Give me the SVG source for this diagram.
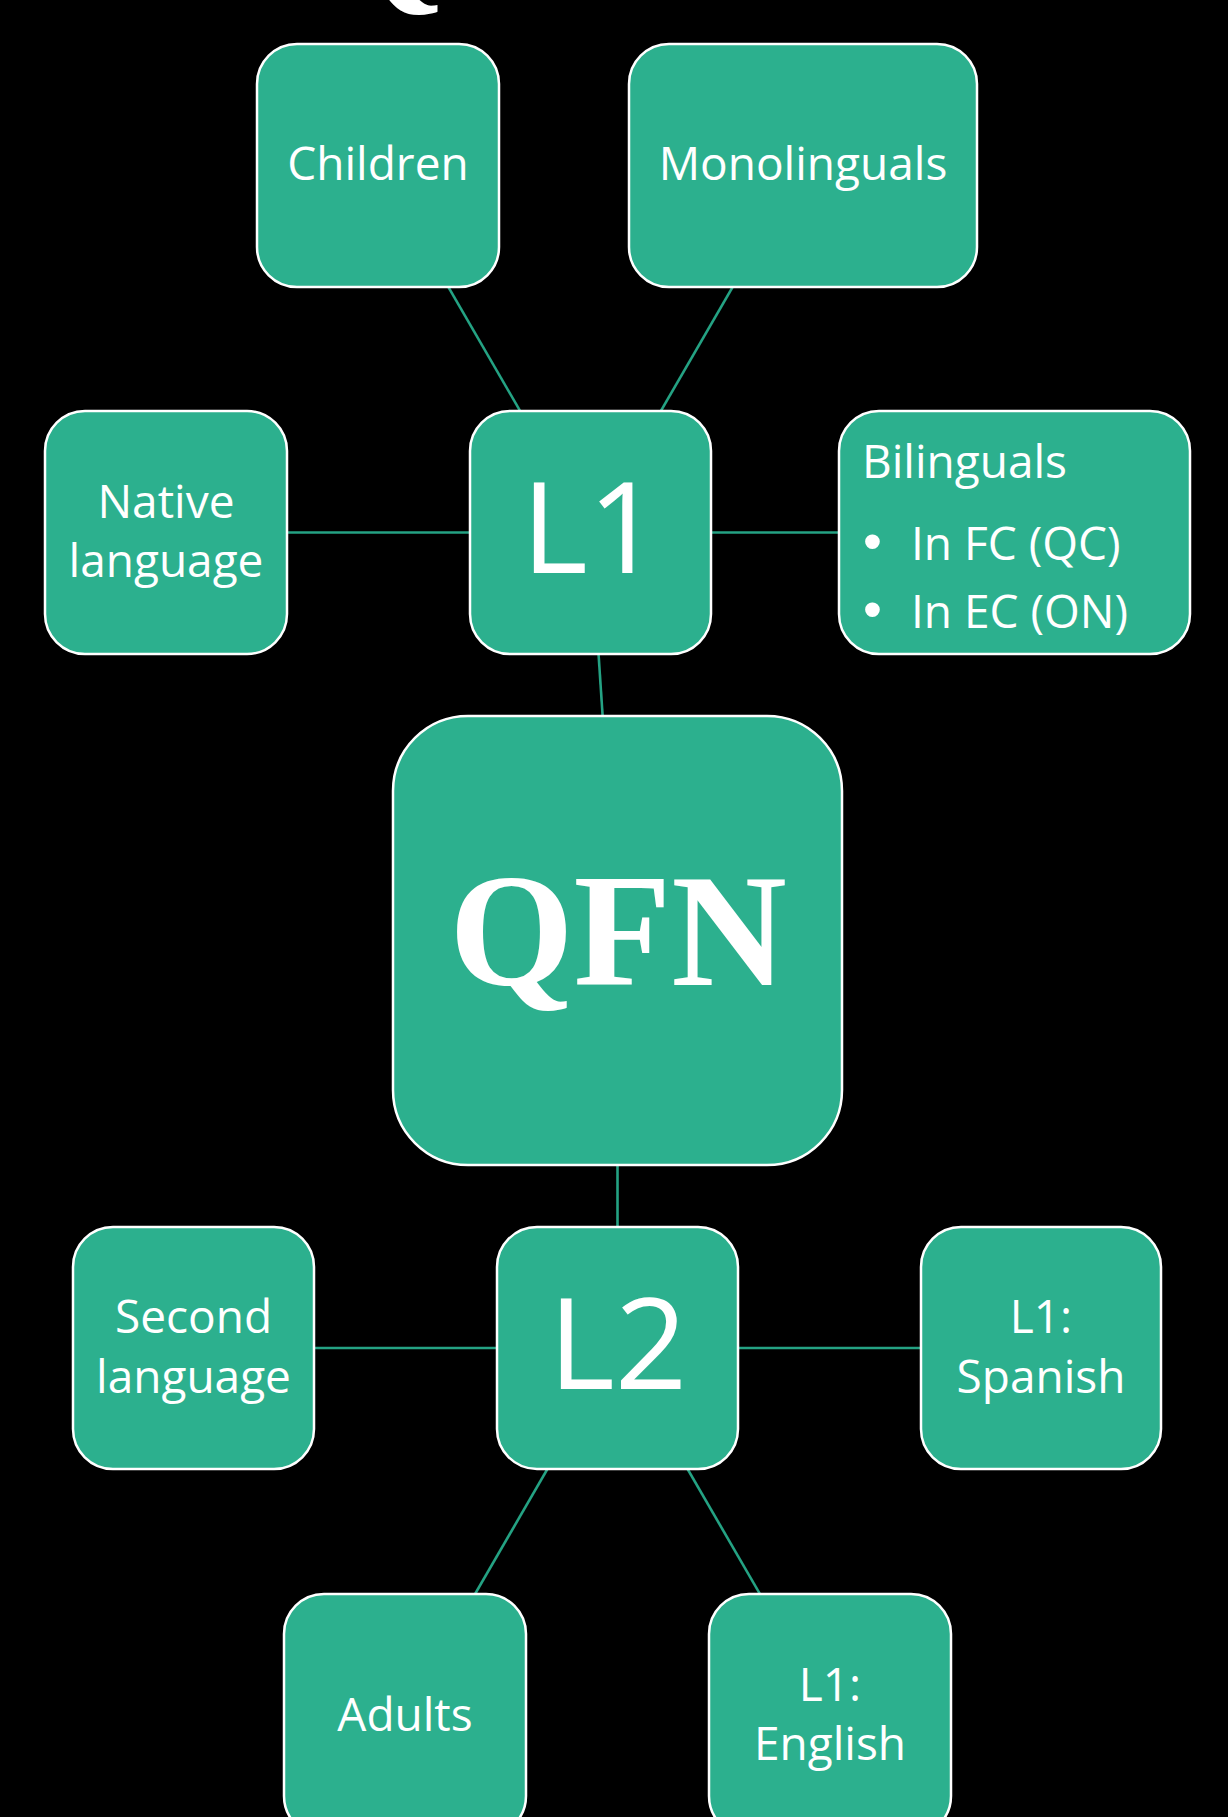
<svg xmlns="http://www.w3.org/2000/svg" width="1228" height="1817" viewBox="0 0 1228 1817">
  <style>
    .bg { fill: #000000; }
    .box { fill: #2cb08e; stroke: #ffffff; stroke-width: 2.5; }
    .link { stroke: #24a283; stroke-width: 2.6; fill: none; }
    .lbl { font-family: "Open Sans", "Liberation Sans", sans-serif; font-size: 46px; fill: #ffffff; }
    .mid { text-anchor: middle; }
    .big { font-family: "Open Sans", "Liberation Sans", sans-serif; font-size: 127px; fill: #ffffff; text-anchor: middle; }
    .bul { font-family: "Liberation Sans", sans-serif; font-size: 54px; fill: #ffffff; }
    .title { font-family: "Liberation Serif", "Times New Roman", serif; font-weight: bold; fill: #ffffff; }
  </style>

  <rect class="bg" x="0" y="0" width="1228" height="1817"/>

  <!-- slide title, mostly above the top edge -->
  <text class="title" x="320" y="-11" font-size="160">Q</text>

  <!-- connectors (centre to centre, hidden under the boxes) -->
  <g id="connectors">
    <line class="link" x1="378" y1="165.5" x2="590.5" y2="532.5"/>
    <line class="link" x1="803" y1="165.5" x2="590.5" y2="532.5"/>
    <line class="link" x1="166" y1="532.5" x2="590.5" y2="532.5"/>
    <line class="link" x1="590.5" y1="532.5" x2="1014.5" y2="532.5"/>
    <line class="link" x1="590.5" y1="532.5" x2="617.5" y2="940.5"/>
    <line class="link" x1="617.5" y1="940.5" x2="617.5" y2="1348"/>
    <line class="link" x1="193.5" y1="1348" x2="617.5" y2="1348"/>
    <line class="link" x1="617.5" y1="1348" x2="1041" y2="1348"/>
    <line class="link" x1="617.5" y1="1348" x2="405" y2="1715"/>
    <line class="link" x1="617.5" y1="1348" x2="830" y2="1715"/>
  </g>

  <g id="children">
    <rect class="box" x="257" y="44" width="242" height="243" rx="40" ry="40"/>
    <text class="lbl mid" x="378" y="180">Children</text>
  </g>

  <g id="monolinguals">
    <rect class="box" x="629" y="44" width="348" height="243" rx="40" ry="40"/>
    <text class="lbl mid" x="803" y="180">Monolinguals</text>
  </g>

  <g id="native-language">
    <rect class="box" x="45" y="411" width="242" height="243" rx="40" ry="40"/>
    <text class="lbl mid" x="166" y="518">Native</text>
    <text class="lbl mid" x="166" y="577">language</text>
  </g>

  <g id="l1">
    <rect class="box" x="470" y="411" width="241" height="243" rx="40" ry="40"/>
    <text class="big" x="591" y="573">L1</text>
  </g>

  <g id="bilinguals">
    <rect class="box" x="839" y="411" width="351" height="243" rx="40" ry="40"/>
    <text class="lbl" x="862" y="478">Bilinguals</text>
    <text class="bul" x="863" y="560">•</text>
    <text class="lbl" x="911" y="560">In FC (QC)</text>
    <text class="bul" x="863" y="628">•</text>
    <text class="lbl" x="911" y="628">In EC (ON)</text>
  </g>

  <g id="qfn">
    <rect class="box" x="393" y="716" width="449" height="449" rx="75" ry="75"/>
    <text class="title" x="618" y="985" font-size="160" text-anchor="middle">QFN</text>
  </g>

  <g id="l2">
    <rect class="box" x="497" y="1227" width="241" height="242" rx="40" ry="40"/>
    <text class="big" x="618" y="1389">L2</text>
  </g>

  <g id="second-language">
    <rect class="box" x="73" y="1227" width="241" height="242" rx="40" ry="40"/>
    <text class="lbl mid" x="193.5" y="1333">Second</text>
    <text class="lbl mid" x="193.5" y="1393">language</text>
  </g>

  <g id="l1-spanish">
    <rect class="box" x="921" y="1227" width="240" height="242" rx="40" ry="40"/>
    <text class="lbl mid" x="1041" y="1333">L1:</text>
    <text class="lbl mid" x="1041" y="1393">Spanish</text>
  </g>

  <g id="adults">
    <rect class="box" x="284" y="1594" width="242" height="242" rx="40" ry="40"/>
    <text class="lbl mid" x="405" y="1731">Adults</text>
  </g>

  <g id="l1-english">
    <rect class="box" x="709" y="1594" width="242" height="242" rx="40" ry="40"/>
    <text class="lbl mid" x="830" y="1701">L1:</text>
    <text class="lbl mid" x="830" y="1760">English</text>
  </g>
</svg>
